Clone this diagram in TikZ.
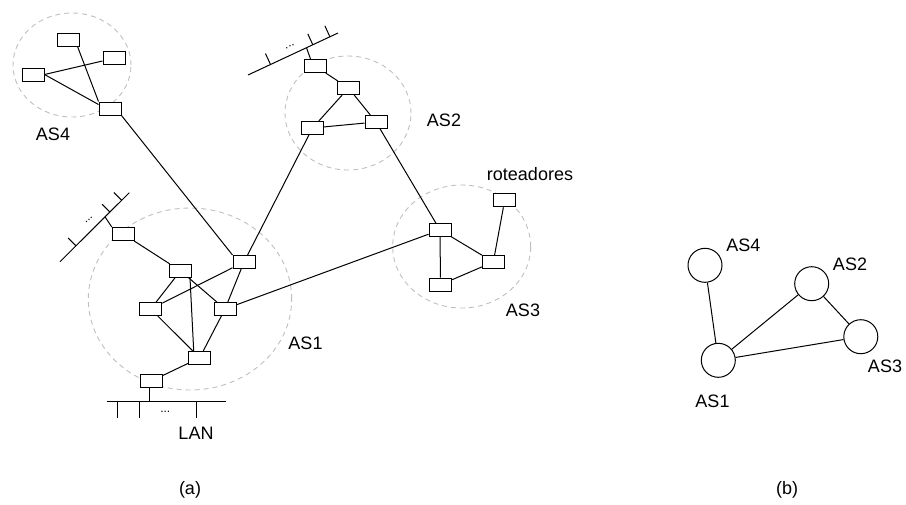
\documentclass[tikz,border=0pt]{standalone}
\usepackage{fontspec}
\setmainfont{Liberation Sans}
\usetikzlibrary{calc}

\begin{document}
\begin{tikzpicture}[x = 1pt, y = -1pt,
	router/.style = {draw, fill = white, rectangle, minimum width = 22pt, minimum height = 13pt, inner sep = 0pt, line width = 1pt},
	asarea/.style = {draw = black!25, dash pattern = on 5pt off 4pt, line width = 0.9pt},
	asnode/.style = {draw, fill = white, circle, minimum size = 34pt, inner sep = 0pt, line width = 1pt},
	link/.style = {line width = 1pt},
	lbl/.style = {font = \fontsize{18}{20}\selectfont, inner sep = 0pt},
	dotlbl/.style = {font = \fontsize{12}{14}\selectfont, inner sep = 0pt}]
\useasboundingbox (0,0) rectangle (906,504);

\draw[asarea] (72,65) ellipse [x radius = 59pt, y radius = 52pt];
\draw[asarea] (348,113) ellipse [x radius = 63pt, y radius = 57pt];
\draw[asarea] (461.7,246.5) ellipse [x radius = 69pt, y radius = 61.5pt];
\draw[asarea] (190,299) ellipse [x radius = 101.7pt, y radius = 91pt];

\node[router] (a4a) at (68,39.5) {};
\node[router] (a4b) at (114,58) {};
\node[router] (a4c) at (33,74.5) {};
\node[router] (a4d) at (110,108.5) {};

\node[router] (a2a) at (315,66) {};
\node[router] (a2b) at (348.5,88) {};
\node[router] (a2c) at (312.5,128) {};
\node[router] (a2d) at (376,122) {};

\node[router] (a3r) at (504.7,200.3) {};
\node[router] (a3a) at (440,230) {};
\node[router] (a3b) at (493.3,262) {};
\node[router] (a3c) at (440.5,284.7) {};

\node[router] (a1a) at (123.3,234) {};
\node[router] (a1b) at (180.5,270.8) {};
\node[router] (a1c) at (244,262) {};
\node[router] (a1d) at (150.7,309) {};
\node[router] (a1e) at (225,309) {};
\node[router] (a1f) at (199.7,357.8) {};
\node[router] (a1g) at (151.3,381) {};

\draw[link] ([xshift = -2pt]a4a.south east) -- (a4d.north west);
\draw[link] (a4c.east) -- ([yshift = -3pt]a4b.west);
\draw[link] (a4c.east) -- ([yshift = -3pt]a4d.north west);
\draw[link] (a4d.south east) -- (a1c.north west);

\draw[link] (a2a) -- (a2b);
\draw[link] (a2c) -- (a2b);
\draw[link] (a2b) -- (a2d);
\draw[link] (a2c) -- (a2d);
\draw[link] (a2c) -- (a1c);
\draw[link] (a2d) -- (a3a);

\draw[link] (a3a) -- (a3b);
\draw[link] (a3a) -- (a3c);
\draw[link] (a3c) -- (a3b);
\draw[link] (a3r) -- (a3b);
\draw[link] (a1e) -- (a3a);

\draw[link] (a1a) -- (a1b);
\draw[link] (a1b) -- (a1d);
\draw[link] (a1b) -- (a1e);
\draw[link] ([xshift = -2pt]a1b.south east) -- ([xshift = -6pt]a1f.north);
\draw[link] (a1d) -- (a1f);
\draw[link] (a1e) -- (a1f);
\draw[link] (a1d) -- (a1c);
\draw[link] (a1c) -- (a1e);
\draw[link] (a1f) -- (a1g);

\coordinate (b1s) at (60,261.7);
\coordinate (b1e) at (129.3,192.7);
\coordinate (b1h) at ($(b1s)!0.65!(b1e)$);
\draw[link] (b1s) -- (b1e);
\foreach \t in {0.23, 0.72, 0.89}
	\draw[link] ($(b1s)!\t!(b1e)$) -- ++(-7.8,-7.8);
\draw[link] (b1h) -- (a1a.north west);
\node[dotlbl, rotate = 45] (d1) at (89,220) {...};

\coordinate (b2s) at (248,75);
\coordinate (b2e) at (338,33);
\coordinate (b2h) at ($(b2s)!0.65!(b2e)$);
\draw[link] (b2s) -- (b2e);
\foreach \t in {0.25, 0.72, 0.91}
	\draw[link] ($(b2s)!\t!(b2e)$) -- ++(-5,-10.9);
\draw[link] (b2h) -- ([xshift = 7pt]a2a.north west);
\node[dotlbl, rotate = 25] (d2) at (290,46.7) {...};

\coordinate (lans) at (106.7,401.7);
\coordinate (lane) at (226,401.7);
\draw[link] (lans) -- (lane);
\foreach \x in {117.3, 139.3, 196}
	\draw[link] (\x,401.7) -- (\x,418.3);
\draw[link] ([xshift = -2pt]a1g.south) -- ([xshift = -2pt]a1g.south |- lans);
\node[dotlbl] (d3) at (165.3,411.5) {...};

\node[lbl] (l4) at (53,134) {AS4};
\node[lbl] (l2) at (444,120) {AS2};
\node[lbl] (l3) at (523,310) {AS3};
\node[lbl] (l1) at (305.5,343.5) {AS1};
\node[lbl] (rot) at (530,174.5) {roteadores};
\node[lbl] (lan) at (196,433) {LAN};

\node[asnode] (b4) at (705,265.3) {};
\node[asnode] (b2) at (811.7,283.7) {};
\node[asnode] (b3) at (860.8,336.7) {};
\node[asnode] (b1) at (718.3,360.3) {};
\draw[link] (b4) -- (b1);
\draw[link] (b1) -- (b2);
\draw[link] (b1) -- (b3);
\draw[link] (b2) -- (b3);

\node[lbl] (m4) at (743.3,245) {AS4};
\node[lbl] (m2) at (850,264.5) {AS2};
\node[lbl] (m3) at (885,366.5) {AS3};
\node[lbl] (m1) at (712.5,401.7) {AS1};

\node[lbl] (capa) at (190,490) {(a)};
\node[lbl] (capb) at (787,490) {(b)};
\end{tikzpicture}
\end{document}
